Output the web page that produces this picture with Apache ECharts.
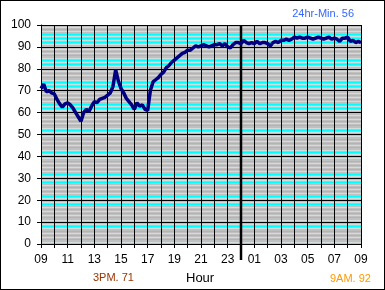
<!DOCTYPE html>
<html>
<head>
<meta charset="utf-8">
<script src="https://cdn.jsdelivr.net/npm/echarts@6/dist/echarts.min.js"></script>
<style>
html,body{margin:0;padding:0;background:#fff;}
#frame{width:385px;height:290px;box-sizing:border-box;border:1px solid #000;}
#c{width:383px;height:288px;}
</style>
</head>
<body>
<div id="frame"><div id="c"></div></div>
<script>
// hours since 09:00, sample step 0.2 h
const stepHours = 0.2;
const humidity = [
71,73,69.5,70,69,68.5,66,64,62.5,64,
64.5,63.5,62,60,58,56,60,61.5,60.5,63,
65,64.5,66,66.5,67,68,69,72,79.5,74.5,
71,69,66.5,65,63.5,61.5,64.5,63,63.5,61.5,
61,70,74,75,76,77.5,78.5,80.5,81.5,83,
84,85,86,87,87.5,88.5,88.5,89.5,90.5,90,
90.5,91,90.5,90,90.5,91,91,91.5,90.5,91.5,
90,89.5,91,92,92,91.5,93,92,91.5,92,
91.5,92.5,91.5,92,92,91.5,90.5,92,92.5,92,
93,93,93.5,93,93.5,94.5,94,94.5,94,94,
94.5,94,93.5,94,94.5,94,93.5,94,94.5,93.5,
94,93.5,92.5,94,94,94.5,92.5,93,92,92.5,
92
];
const startHour = 9;
const midnightOffset = 15;
const yTicks = [0,10,20,30,40,50,60,70,80,90,100];
const titleMin = '24hr-Min. 56';
const note3pm = '3PM. 71';
const note9am = '9AM. 92';
const xName = 'Hour';

const seriesData = humidity.map((v,i)=>[+(i*stepHours).toFixed(2), v]);

const font = 'Liberation Sans, Arial, sans-serif';
const chart = echarts.init(document.getElementById('c'));
const hiddenAxis = (interval, color, width) => ({
  type:'value', min:0, max:100, interval:interval, position:'left',
  axisLine:{show:false}, axisTick:{show:false}, axisLabel:{show:false},
  splitLine:{show:true, lineStyle:{color:color, width:width}}
});
chart.setOption({
  animation:false,
  backgroundColor:'#fff',
  title:[
    {text:titleMin, right:25, top:2, textStyle:{fontFamily:font, fontSize:11, fontWeight:'normal', color:'#3366ff'}},
    {text:note3pm, left:87, top:266, textStyle:{fontFamily:font, fontSize:11, fontWeight:'normal', color:'#993300'}},
    {text:xName, left:180, top:266, textStyle:{fontFamily:font, fontSize:13, fontWeight:'normal', color:'#000'}},
    {text:note9am, left:324, top:267, textStyle:{fontFamily:font, fontSize:11, fontWeight:'normal', color:'#ff9900'}}
  ],
  grid:{left:40, top:24, width:320, height:219, show:true, backgroundColor:'#c0c0c0', borderWidth:0},
  xAxis:{
    type:'value', min:0, max:24, interval:1,
    axisLine:{show:true, lineStyle:{color:'#000', width:1}},
    axisTick:{show:true, length:4, lineStyle:{color:'#000'}},
    axisLabel:{margin:10, fontFamily:font, fontSize:12, color:'#000',
      formatter:(v)=> v%2===0 ? String((startHour+v)%24).padStart(2,'0') : ''},
    splitLine:{show:true, lineStyle:{color:'#000', width:1}}
  },
  yAxis:[
    hiddenAxis(1,'#d2dcdc',1),
    hiddenAxis(2,'#00ffff',1),
    {
      type:'value', min:yTicks[0], max:yTicks[yTicks.length-1], interval:10, position:'left',
      axisLine:{show:true, lineStyle:{color:'#000'}},
      axisTick:{show:true, length:4, lineStyle:{color:'#000'}},
      axisLabel:{margin:10, fontFamily:font, fontSize:12, color:'#000'},
      splitLine:{show:true, lineStyle:{color:'#000', width:1}}
    }
  ],
  series:[
    {
      type:'custom', xAxisIndex:0, yAxisIndex:2, clip:false, z:3,
      data:[[midnightOffset, 100]],
      renderItem:(params, api)=>{
        const top = api.coord([api.value(0), 100]);
        const bot = api.coord([api.value(0), 0]);
        return {type:'line', shape:{x1:top[0], y1:top[1], x2:bot[0], y2:bot[1]+16},
          style:{stroke:'#000', lineWidth:2.5}};
      }
    },
    {
      type:'line', xAxisIndex:0, yAxisIndex:2, data:seriesData, showSymbol:false, z:4,
      lineStyle:{color:'#000080', width:3.5}
    }
  ]
});
</script>
</body>
</html>
